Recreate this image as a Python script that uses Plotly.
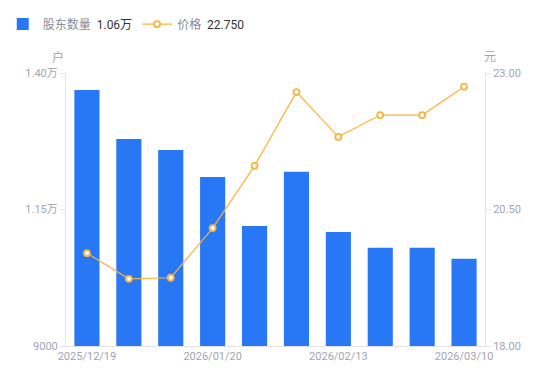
import plotly.graph_objects as go

dates = ["2025/12/19", "2025/12/31", "2026/01/09", "2026/01/20", "2026/01/30",
         "2026/02/06", "2026/02/13", "2026/02/27", "2026/03/02", "2026/03/10"]
holders = [13690, 12790, 12590, 12095, 11200, 12190, 11090, 10800, 10800, 10600]
prices = [19.70, 19.23, 19.25, 20.16, 21.30, 22.65, 21.83, 22.23, 22.23, 22.75]
x_ticks = ["2025/12/19", "2026/01/20", "2026/02/13", "2026/03/10"]
left_ticks = [9000, 11500, 14000]
left_labels = ["9000", "1.15万", "1.40万"]
right_ticks = [18, 20.5, 23]

BLUE = "#2878f5"
ORANGE = "#f8b43c"
GRAY = "#a3a3b2"
AXIS = "#e3e3e8"
FONT = "Roboto, Noto Sans CJK SC, sans-serif"

fig = go.Figure()
fig.add_trace(go.Bar(
    x=dates, y=holders, marker=dict(color=BLUE, line=dict(width=0)),
    width=0.6,
    name=f"<span style='color:#8a8a99'>股东数量</span>  {holders[-1]/10000:.2f}万",
))
fig.add_trace(go.Scatter(
    x=dates, y=prices, yaxis="y2", mode="lines+markers",
    line=dict(color=ORANGE, width=1.2),
    marker=dict(size=6, color="white", line=dict(color=ORANGE, width=1.8)),
    name=f"<span style='color:#8a8a99'>价格</span>  {prices[-1]:.3f}",
))

fig.update_layout(
    width=550, height=381,
    margin=dict(l=66, r=65, t=73, b=35, autoexpand=False),
    plot_bgcolor="white", paper_bgcolor="white",
    font=dict(family=FONT, size=11, color=GRAY),
    showlegend=True,
    legend=dict(orientation="h", xref="container", yref="container",
                x=0.005, y=0.975, xanchor="left", yanchor="top",
                font=dict(size=12, color="#333333"), itemwidth=30,
                traceorder="normal"),
    bargap=0.4,
    xaxis=dict(type="category", tickmode="array", tickvals=x_ticks, ticktext=x_ticks,
               range=[-0.5, len(dates) - 0.5],
               showgrid=False, showline=True, linecolor=AXIS, linewidth=1,
               ticks="", tickfont=dict(size=11, color=GRAY), zeroline=False,
               automargin=False),
    yaxis=dict(range=[9000, 14000], tickvals=left_ticks, ticktext=left_labels,
               showgrid=False, showline=True, linecolor=AXIS, linewidth=1,
               ticks="outside", ticklen=5, tickcolor=AXIS,
               tickfont=dict(size=11, color=GRAY), zeroline=False, automargin=False),
    yaxis2=dict(range=[18, 23], tickvals=right_ticks, tickformat=".2f",
                overlaying="y", side="right",
                showgrid=False, showline=True, linecolor=AXIS, linewidth=1,
                ticks="outside", ticklen=5, tickcolor=AXIS,
                tickfont=dict(size=11, color=GRAY), zeroline=False, automargin=False),
    annotations=[
        dict(text="户", xref="paper", yref="paper", x=-0.018, y=1.0, yshift=16,
             xanchor="center", yanchor="middle", showarrow=False,
             font=dict(size=12, color=GRAY)),
        dict(text="元", xref="paper", yref="paper", x=1.012, y=1.0, yshift=16,
             xanchor="center", yanchor="middle", showarrow=False,
             font=dict(size=12, color=GRAY)),
    ],
)

fig.write_html("out.html", config={"displayModeBar": False},
               post_script="document.body.style.margin='0';")
